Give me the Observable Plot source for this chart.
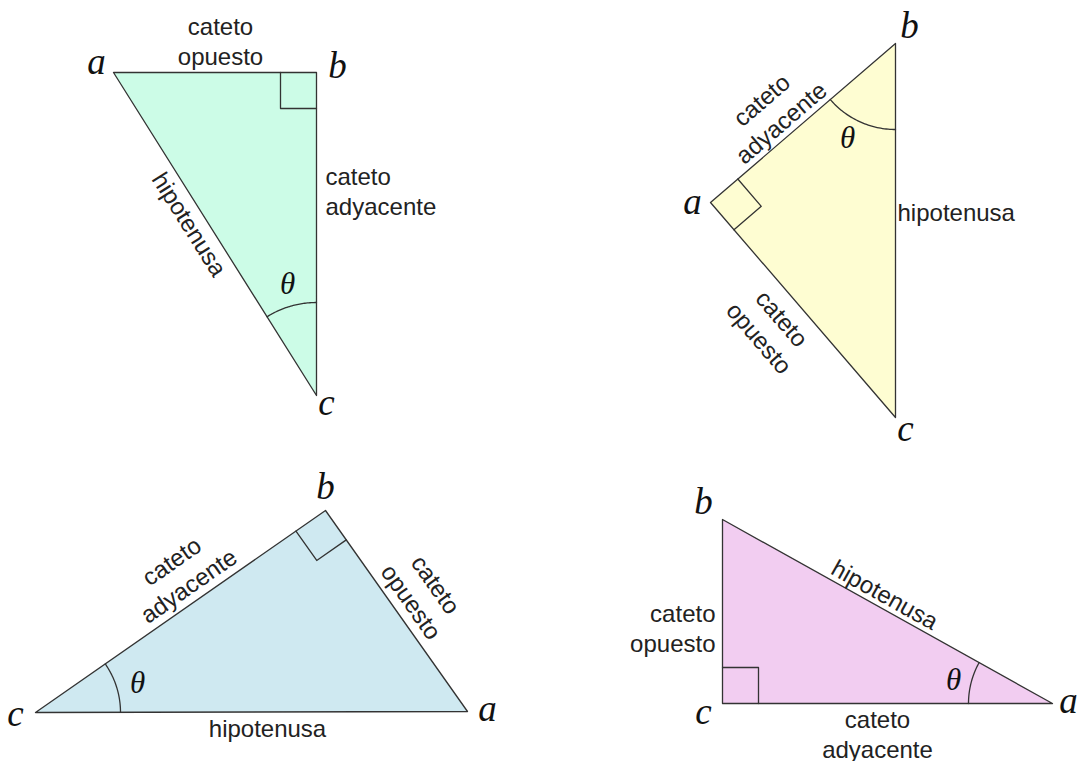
<!DOCTYPE html>
<html><head><meta charset="utf-8">
<script src="https://cdn.jsdelivr.net/npm/d3@7"></script>
<script src="https://cdn.jsdelivr.net/npm/@observablehq/plot@0.6"></script>
<style>body{margin:0;background:#fff}</style>
</head><body><div id="chart"></div>
<script>
// ---- data ----
const triangulos = ["verde", "amarillo", "azul", "rosa"];
const rellenos = ["#ccfce7", "#fefdd2", "#cfe9f1", "#f2cdf1"];
const verticesVerde = [{v: "a", x: 113, y: 72}, {v: "b", x: 316, y: 72}, {v: "c", x: 316, y: 395}];
const verticesAmarillo = [{v: "a", x: 710, y: 202}, {v: "b", x: 895, y: 43}, {v: "c", x: 895, y: 417}];
const verticesAzul = [{v: "a", x: 467, y: 711}, {v: "b", x: 325, y: 510}, {v: "c", x: 35, y: 712}];
const verticesRosa = [{v: "a", x: 1052, y: 703}, {v: "b", x: 722, y: 519}, {v: "c", x: 722, y: 703}];
const anguloRecto = ["b", "a", "b", "c"];
const anguloTheta = ["c", "b", "c", "a"];
const ladoCuadrado = 36;
const radioArco = [93, 86, 85, 84];

// vertex letter labels (baseline positions)
const letrasVertice = [
  {t: "a", x: 96, y: 73}, {t: "b", x: 337, y: 77}, {t: "c", x: 326, y: 414},
  {t: "a", x: 692, y: 213}, {t: "b", x: 909, y: 37}, {t: "c", x: 905, y: 440},
  {t: "a", x: 487, y: 720}, {t: "b", x: 325, y: 498}, {t: "c", x: 15, y: 725},
  {t: "a", x: 1068, y: 712}, {t: "b", x: 703, y: 513}, {t: "c", x: 703, y: 723}
];
const letrasTheta = [
  {t: "θ", x: 287, y: 293}, {t: "θ", x: 847, y: 147},
  {t: "θ", x: 137, y: 692}, {t: "θ", x: 953, y: 689}
];
// side labels: text, triangle index, side (from,to) for rotation, centre, anchor
const etiquetasLado = [
  {t: "cateto\nopuesto", tri: 0, lado: null, x: 220, y: 40, anchor: "middle"},
  {t: "cateto\nadyacente", tri: 0, lado: null, x: 325, y: 190, anchor: "start"},
  {t: "hipotenusa", tri: 0, lado: ["a", "c"], x: 190, y: 223, anchor: "middle"},
  {t: "hipotenusa", tri: 1, lado: null, x: 897, y: 211, anchor: "start"},
  {t: "cateto\nadyacente", tri: 1, lado: ["a", "b"], x: 770, y: 110, anchor: "middle"},
  {t: "cateto\nopuesto", tri: 1, lado: ["a", "c"], x: 771, y: 327, anchor: "middle"},
  {t: "cateto\nadyacente", tri: 2, lado: ["c", "b"], x: 179, y: 572, anchor: "middle"},
  {t: "cateto\nopuesto", tri: 2, lado: ["b", "a"], x: 424, y: 592, anchor: "middle"},
  {t: "hipotenusa", tri: 2, lado: null, x: 267, y: 727, anchor: "middle"},
  {t: "cateto\nopuesto", tri: 3, lado: null, x: 715, y: 627, anchor: "end"},
  {t: "cateto\nadyacente", tri: 3, lado: null, x: 877, y: 733, anchor: "middle"},
  {t: "hipotenusa", tri: 3, lado: ["b", "a"], x: 885, y: 593, anchor: "middle"}
];

// ---- geometry derived from the vertices ----
const todos = [verticesVerde, verticesAmarillo, verticesAzul, verticesRosa];
const get = (tri, v) => todos[tri].find(d => d.v === v);
const unit = (p, q) => { const dx = q.x - p.x, dy = q.y - p.y, l = Math.hypot(dx, dy); return [dx / l, dy / l]; };

const cuadrados = todos.map((vs, i) => {
  const r = get(i, anguloRecto[i]);
  const [p, q] = vs.filter(d => d.v !== anguloRecto[i]);
  const u1 = unit(r, p), u2 = unit(r, q), s = ladoCuadrado;
  return [
    {x: r.x + s * u1[0], y: r.y + s * u1[1]},
    {x: r.x + s * u1[0] + s * u2[0], y: r.y + s * u1[1] + s * u2[1]},
    {x: r.x + s * u2[0], y: r.y + s * u2[1]}
  ];
});

const arcos = todos.map((vs, i) => {
  const c = get(i, anguloTheta[i]);
  const [p, q] = vs.filter(d => d.v !== anguloTheta[i]);
  let a0 = Math.atan2(p.y - c.y, p.x - c.x), a1 = Math.atan2(q.y - c.y, q.x - c.x);
  let d = a1 - a0;
  while (d > Math.PI) d -= 2 * Math.PI;
  while (d < -Math.PI) d += 2 * Math.PI;
  return d3.range(41).map(k => {
    const a = a0 + d * k / 40;
    return {x: c.x + radioArco[i] * Math.cos(a), y: c.y + radioArco[i] * Math.sin(a)};
  });
});

const rot = (e) => {
  if (!e.lado) return 0;
  const p = get(e.tri, e.lado[0]), q = get(e.tri, e.lado[1]);
  return Math.atan2(q.y - p.y, q.x - p.x) * 180 / Math.PI;
};

const ink = "#333";
const sans = "'Liberation Sans', Arial, sans-serif";
const serif = "'Liberation Serif', 'Times New Roman', serif";

const marks = [];
todos.forEach((vs, i) => {
  marks.push(Plot.line(vs, {x: "x", y: "y", curve: "linear-closed", fill: rellenos[i], stroke: ink, strokeWidth: 1.3}));
  marks.push(Plot.line(cuadrados[i], {x: "x", y: "y", stroke: ink, strokeWidth: 1.3}));
  marks.push(Plot.line(arcos[i], {x: "x", y: "y", stroke: ink, strokeWidth: 1.3}));
});
marks.push(Plot.text(letrasVertice, {x: "x", y: "y", text: "t", lineAnchor: "bottom", textAnchor: "middle",
  fontFamily: serif, fontStyle: "italic", fontSize: 37, fill: "#111"}));
marks.push(Plot.text(letrasTheta, {x: "x", y: "y", text: "t", lineAnchor: "bottom", textAnchor: "middle",
  fontFamily: serif, fontStyle: "italic", fontSize: 31, fill: "#111"}));
etiquetasLado.forEach(e => {
  marks.push(Plot.text([e], {x: "x", y: "y", text: "t", textAnchor: e.anchor, lineAnchor: "middle",
    rotate: rot(e), fontFamily: sans, fontSize: 24, lineHeight: 1.25, fill: "#222"}));
});

const chart = Plot.plot({
  width: 1078, height: 761, margin: 0,
  x: {domain: [0, 1078], range: [0, 1078], axis: null},
  y: {domain: [0, 761], range: [0, 761], axis: null},
  style: {background: "#fff", overflow: "visible"},
  marks
});
document.getElementById("chart").appendChild(chart);
</script>
</body></html>
